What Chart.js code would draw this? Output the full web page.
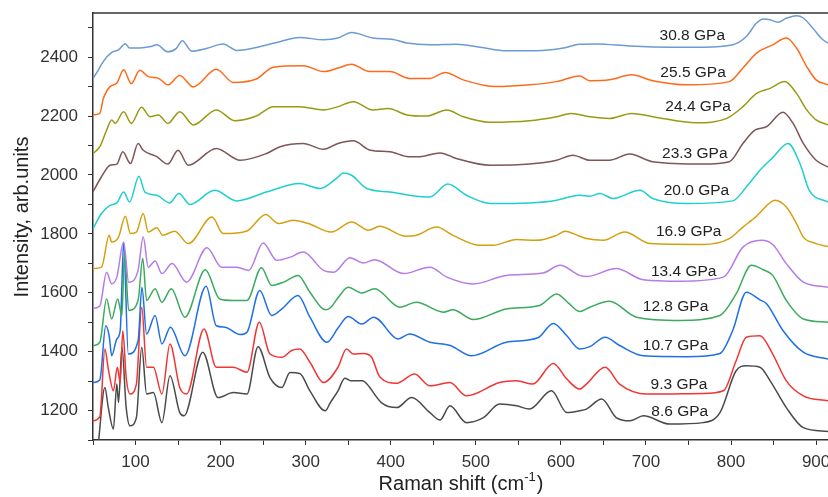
<!DOCTYPE html>
<html><head><meta charset="utf-8">
<script src="https://cdn.jsdelivr.net/npm/chart.js@4.4.1/dist/chart.umd.min.js"></script>
<style>html,body{margin:0;padding:0;background:#fff}#wrap{width:828px;height:497px}</style>
</head><body><div id="wrap"><canvas id="c" width="828" height="497"></canvas></div>
<script>
// Raman spectra, [Raman shift cm-1, intensity arb.units]
const s308 = [[50,2328],[55,2350],[62,2385],[72,2416],[80,2425],[88,2446],[93,2431],[105,2431],[118,2436],[125,2442],[138,2418],[148,2430],[155,2456],[166,2420],[184,2430],[203,2445],[219,2423],[242,2433],[266,2450],[293,2467],[321,2459],[338,2465],[354,2484],[379,2465],[403,2460],[419,2448],[446,2442],[477,2444],[505,2434],[536,2422],[571,2422],[603,2431],[622,2444],[642,2445],[681,2438],[728,2434],[767,2434],[802,2442],[818,2470],[830,2516],[838,2530],[846,2527],[855,2519],[865,2532],[877,2541],[885,2533],[896,2499],[908,2459],[914,2448]];
const s255 = [[50,2204],[58,2209],[62,2258],[70,2300],[78,2312],[86,2357],[95,2310],[105,2356],[115,2334],[127,2328],[138,2306],[152,2338],[168,2299],[195,2359],[215,2314],[242,2326],[262,2366],[297,2371],[321,2351],[338,2363],[354,2376],[375,2351],[399,2351],[422,2328],[446,2328],[464,2348],[485,2323],[524,2300],[563,2306],[595,2317],[622,2336],[634,2320],[657,2323],[683,2340],[708,2320],[748,2306],[798,2317],[814,2363],[830,2414],[849,2442],[865,2465],[877,2431],[889,2368],[900,2323],[914,2306]];
const s244 = [[50,2073],[58,2096],[66,2152],[72,2187],[76,2175],[86,2215],[95,2175],[107,2230],[117,2198],[127,2204],[138,2175],[152,2215],[168,2170],[195,2221],[217,2184],[242,2200],[262,2232],[293,2232],[321,2221],[338,2232],[356,2249],[379,2221],[397,2226],[419,2204],[442,2200],[466,2221],[485,2198],[516,2179],[563,2184],[595,2198],[612,2209],[634,2198],[657,2192],[683,2209],[708,2198],[759,2177],[795,2192],[814,2232],[830,2277],[846,2294],[863,2317],[877,2277],[889,2221],[900,2187],[914,2170]];
const s233 = [[50,1943],[60,1994],[70,2033],[78,2037],[85,2079],[94,2039],[103,2107],[109,2084],[125,2062],[138,2037],[150,2084],[162,2033],[195,2090],[223,2050],[254,2073],[270,2096],[297,2107],[321,2087],[338,2107],[356,2116],[376,2084],[399,2079],[421,2062],[434,2062],[458,2075],[477,2056],[517,2033],[563,2037],[595,2050],[614,2067],[634,2050],[657,2050],[681,2071],[708,2045],[767,2037],[798,2045],[814,2107],[828,2152],[842,2164],[861,2213],[873,2175],[885,2107],[900,2050],[914,2027]];
const s200 = [[50,1818],[60,1869],[70,1897],[78,1905],[86,1942],[93,1908],[104,1996],[111,1942],[125,1931],[140,1905],[151,1937],[164,1900],[193,1948],[219,1912],[254,1942],[293,1971],[317,1954],[338,1993],[344,2007],[354,1999],[372,1954],[399,1942],[422,1931],[446,1925],[467,1969],[489,1931],[517,1903],[563,1905],[595,1914],[610,1925],[622,1931],[634,1928],[646,1937],[661,1920],[693,1948],[708,1920],[748,1903],[802,1912],[818,1959],[834,2016],[849,2059],[867,2107],[881,2039],[892,1948],[914,1908]];
const s169 = [[50,1682],[60,1687],[69,1795],[72,1772],[80,1789],[88,1860],[94,1801],[101,1806],[109,1869],[115,1806],[125,1821],[132,1795],[146,1809],[162,1767],[190,1857],[203,1801],[231,1810],[253,1866],[268,1835],[285,1846],[303,1835],[330,1806],[354,1840],[374,1812],[387,1826],[417,1792],[430,1795],[454,1823],[473,1795],[505,1761],[520,1761],[548,1781],[571,1778],[595,1795],[605,1809],[622,1792],[630,1784],[650,1778],[675,1806],[705,1767],[767,1764],[798,1784],[814,1823],[824,1846],[830,1860],[852,1914],[865,1891],[877,1835],[885,1789],[900,1767],[914,1757]];
const s134 = [[50,1547],[58,1555],[66,1670],[72,1630],[78,1653],[86,1772],[92,1636],[103,1676],[109,1789],[115,1687],[123,1708],[131,1665],[143,1699],[160,1636],[184,1753],[201,1687],[219,1687],[233,1676],[250,1769],[266,1710],[282,1721],[297,1738],[321,1676],[333,1670],[352,1719],[368,1701],[381,1712],[415,1665],[446,1687],[466,1653],[497,1630],[536,1659],[579,1667],[599,1693],[622,1659],[630,1655],[665,1682],[697,1644],[740,1639],[791,1653],[814,1755],[836,1778],[849,1764],[865,1699],[885,1636],[914,1619]];
const s128 = [[50,1420],[58,1432],[66,1579],[72,1511],[79,1579],[84,1523],[87,1740],[92,1540],[103,1574],[108.5,1716],[113,1574],[123,1614],[131,1568],[142,1614],[158,1517],[182,1678],[199,1579],[215,1574],[231,1574],[248,1685],[260,1625],[274,1636],[291,1659],[305,1602],[323,1542],[329,1549],[338,1583],[350,1619],[366,1599],[381,1614],[411,1551],[430,1568],[462,1534],[473,1542],[497,1509],[536,1545],[575,1557],[595,1596],[610,1562],[622,1536],[634,1551],[657,1571],[689,1517],[740,1506],[787,1523],[806,1596],[824,1693],[838,1678],[849,1659],[865,1574],[885,1511],[914,1500]];
const s107 = [[50,1295],[58,1304],[65,1488],[69,1454],[72,1386],[78,1443],[82,1472],[86,1769],[91.5,1392],[103,1437],[107.5,1619],[113,1460],[123,1523],[131,1426],[141,1483],[158,1386],[183,1622],[195,1488],[205,1483],[223,1458],[231,1466],[246,1608],[260,1523],[272,1545],[291,1591],[305,1517],[325,1432],[338,1480],[350,1519],[366,1494],[380,1517],[409,1443],[422,1460],[446,1432],[470,1421],[495,1386],[536,1432],[573,1447],[591,1496],[607,1454],[622,1409],[634,1417],[652,1449],[669,1421],[697,1386],[748,1383],[787,1394],[802,1472],[818,1602],[834,1576],[842,1562],[861,1472],[885,1398],[914,1375]];
const s93 = [[50,1165],[58,1179],[64,1409],[68,1341],[74,1267],[78.6,1347],[82,1295],[85,1471],[89,1313],[93.5,1256],[101,1290],[107.3,1551],[113,1347],[121,1347],[131,1256],[140.5,1426],[152,1278],[160,1256],[180.5,1477],[195,1347],[215,1347],[231,1330],[245.5,1500],[258,1392],[272,1381],[283.5,1404],[293,1409],[305,1364],[321,1295],[338,1347],[348,1409],[356,1392],[368,1394],[377.5,1381],[387,1315],[407,1293],[428,1324],[446,1284],[469.5,1295],[489,1250],[528,1295],[548,1301],[567,1290],[591,1360],[607,1307],[622,1273],[630,1290],[652,1347],[669,1290],[701,1256],[767,1258],[791,1267],[806,1369],[818,1449],[834,1454],[849,1392],[865,1301],[885,1250],[914,1233]];
const s86 = [[56,1080],[64,1278],[68,1210],[74,1137],[78,1290],[80,1227],[84,1415],[89,1210],[93.5,1148],[101,1176],[107.3,1415],[113,1256],[121,1261],[131,1159],[140.5,1318],[152,1193],[157,1182],[179,1398],[197,1244],[215,1261],[231,1256],[244,1417],[258,1312],[272,1278],[281.5,1329],[293,1326],[305,1267],[323,1199],[329,1227],[338,1267],[346,1310],[353,1301],[367,1301],[372,1290],[389,1227],[407,1210],[424.5,1244],[446,1193],[458,1168],[469.5,1216],[489,1159],[509,1176],[528,1222],[548,1216],[563,1205],[589,1267],[607,1193],[622,1199],[630,1205],[648,1239],[665,1176],[681,1165],[697,1182],[728,1154],[767,1159],[787,1193],[806,1335],[818,1352],[834,1347],[846,1301],[865,1210],[885,1142],[914,1129]];

const seriesNames  = ['30.8 GPa','25.5 GPa','24.4 GPa','23.3 GPa','20.0 GPa','16.9 GPa','13.4 GPa','12.8 GPa','10.7 GPa','9.3 GPa','8.6 GPa'];
const seriesData   = [s308, s255, s244, s233, s200, s169, s134, s128, s107, s93, s86];
const seriesColors = ['#6c9bd2','#ff6a1a','#9a9a12','#7f5555','#1fcfcf','#d4a012','#b57be8','#3aaa5c','#1f6fe6','#f03535','#4a4a4a'];
const labelX = [754.5, 755.4, 761.3, 757.4, 759.4, 750.3, 744.4, 734.8, 734.8, 738.9, 739.8];
const labelY = [2472, 2348, 2232, 2073, 1948, 1806, 1673, 1551, 1420, 1288, 1197];
const xTickLabels = [100,200,300,400,500,600,700,800,900];
const yTickLabels = [1200,1400,1600,1800,2000,2200,2400];

const FONT = "'Liberation Sans', Arial, sans-serif";
Chart.defaults.font.family = FONT;

const decor = {
  id: 'decor',
  afterDraw(chart) {
    const {ctx, chartArea: a, scales} = chart;
    ctx.save();
    ctx.strokeStyle = '#333'; ctx.lineWidth = 1.5;
    ctx.beginPath(); ctx.moveTo(a.left, a.top); ctx.lineTo(a.right, a.top); ctx.stroke();
    ctx.fillStyle = '#222';
    ctx.font = '15.5px ' + FONT;
    ctx.textAlign = 'center'; ctx.textBaseline = 'middle';
    seriesNames.forEach((n, i) => {
      ctx.fillText(n, scales.x.getPixelForValue(labelX[i]), scales.y.getPixelForValue(labelY[i]));
    });
    ctx.font = '20px ' + FONT;
    ctx.save();
    ctx.translate(22, 217); ctx.rotate(-Math.PI / 2);
    ctx.fillText('Intensity, arb.units', 0, 0);
    ctx.restore();
    const main = 'Raman shift (cm', sup = '-1', close = ')';
    ctx.font = '20px ' + FONT; const w1 = ctx.measureText(main).width, w3 = ctx.measureText(close).width;
    ctx.font = '13px ' + FONT; const w2 = ctx.measureText(sup).width;
    let x = 461 - (w1 + w2 + w3 + 1) / 2, y = 484;
    ctx.textAlign = 'left';
    ctx.font = '20px ' + FONT; ctx.fillText(main, x, y); x += w1;
    ctx.font = '13px ' + FONT; ctx.fillText(sup, x, y - 7); x += w2 + 1;
    ctx.font = '20px ' + FONT; ctx.fillText(close, x, y);
    ctx.restore();
  }
};

new Chart(document.getElementById('c'), {
  type: 'line',
  data: {
    datasets: seriesData.map((d, i) => ({
      label: seriesNames[i],
      data: d.map(([x, y]) => ({x, y})),
      borderColor: seriesColors[i],
      borderWidth: 1.5,
      pointRadius: 0,
      fill: false,
      cubicInterpolationMode: 'monotone'
    }))
  },
  options: {
    responsive: false,
    animation: false,
    devicePixelRatio: 1,
    layout: {padding: {top: 13, left: 0, right: 0, bottom: 0}},
    plugins: {legend: {display: false}, tooltip: {enabled: false}},
    scales: {
      x: {
        type: 'linear', min: 50, max: 914,
        afterFit(s) { s.height = 57; s.paddingLeft = 0; s.paddingRight = 0; },
        border: {display: true, color: '#333', width: 1.5},
        grid: {drawOnChartArea: false, drawTicks: true, tickLength: 5, color: '#333'},
        ticks: {
          stepSize: 50, includeBounds: false, autoSkip: false, maxRotation: 0,
          padding: 7, color: '#333', font: {size: 17},
          callback: v => xTickLabels.includes(v) ? String(v) : ''
        }
      },
      y: {
        type: 'linear', min: 1100, max: 2550,
        afterFit(s) { s.width = 93; s.paddingTop = 0; s.paddingBottom = 0; },
        border: {display: true, color: '#333', width: 1.5},
        grid: {drawOnChartArea: false, drawTicks: true, tickLength: 5, color: '#333'},
        ticks: {
          stepSize: 100, includeBounds: false, autoSkip: false,
          padding: 10, color: '#333', font: {size: 17},
          callback: v => yTickLabels.includes(v) ? String(v) : ''
        }
      }
    }
  },
  plugins: [decor]
});
</script></body></html>
